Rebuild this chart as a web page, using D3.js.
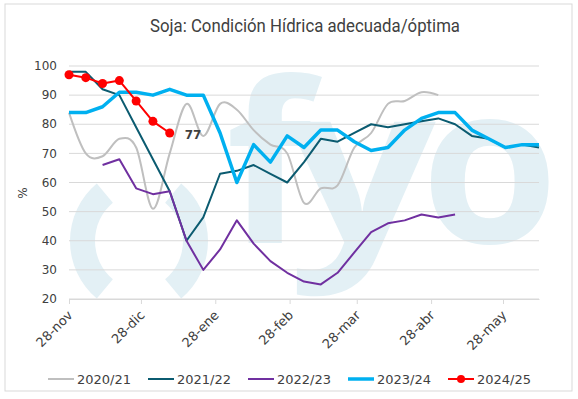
<!DOCTYPE html>
<html>
<head>
<meta charset="utf-8">
<script src="https://cdn.jsdelivr.net/npm/d3@7"></script>
<style>
  body { margin: 0; background: #fff; }
  text { font-family: 'DejaVu Sans', Verdana, sans-serif; fill: #404040; }
</style>
</head>
<body>
<div id="chart"></div>
<script>
// weekly readings, first week = 28-nov
const seasons = ['2020/21', '2021/22', '2022/23', '2023/24', '2024/25']
const colors = ['#bfbfbf', '#0b5b70', '#7030a0', '#00b0f0', '#ff0000']
const widths = [2, 2, 2, 3.5, 2]

const s2020 = [84, 70, 69, 75, 72, 51, 70, 87, 76, 87, 85, 78, 73, 70, 53, 58, 59, 72, 77, 87, 88, 91, 90]
const s2021 = [98, 98, 92, 90, 79, 68, 57, 40, 48, 63, 64, 66, 63, 60, 67, 75, 74, 77, 80, 79, 80, 81, 82, 80, 76, 75, 72, 73, 72]
const s2022 = [null, null, 66, 68, 58, 56, 57, 40, 30, 37, 47, 39, 33, 29, 26, 25, 29, 36, 43, 46, 47, 49, 48, 49]
const s2023 = [84, 84, 86, 91, 91, 90, 92, 90, 90, 77, 60, 73, 67, 76, 72, 78, 78, 74, 71, 72, 78, 82, 84, 84, 78, 75, 72, 73, 73]
const s2024 = [97, 96, 94, 95, 88, 81, 77]

const tickLabels = ['28-nov', '28-dic', '28-ene', '28-feb', '28-mar', '28-abr', '28-may']
const yTicks = [20, 30, 40, 50, 60, 70, 80, 90, 100]

const allSeries = [s2020, s2021, s2022, s2023, s2024]
const start = new Date(2020, 10, 28)
const nWeeks = 29
const weekDate = i => d3.timeDay.offset(start, 7 * i)

const width = 578
const height = 399

const x = d3.scaleTime()
  .domain([start, weekDate(nWeeks - 1)])
  .range([69, 539])

const y = d3.scaleLinear()
  .domain([20, 100])
  .range([299, 66])

const svg = d3.select('#chart')
  .append('svg')
  .attr('width', width)
  .attr('height', height)

svg.append('rect')
  .attr('x', 5).attr('y', 4)
  .attr('width', 567).attr('height', 387)
  .attr('fill', '#fff')
  .attr('stroke', '#d9d9d9')

// watermark "()fyo"
const wm = svg.append('g').attr('fill', '#e3f0f5')
const paren = d3.arc().innerRadius(50).outerRadius(75)
const deg = Math.PI / 180
wm.append('path')
  .attr('transform', 'translate(145,241)')
  .attr('d', paren({ startAngle: 220 * deg, endAngle: 320 * deg }))
wm.append('path')
  .attr('transform', 'translate(133,241)')
  .attr('d', paren({ startAngle: 40 * deg, endAngle: 140 * deg }))
wm.selectAll('text')
  .data([['f', 226, 1], ['y', 288, 1.17], ['o', 421, 1]])
  .join('text')
  .attr('transform', d => `translate(${d[1]},243) scale(${d[2]},1)`)
  .style('font-family', "'Open Sans', sans-serif")
  .style('font-weight', 'bold')
  .style('font-size', '222px')
  .style('fill', '#e3f0f5')
  .text(d => d[0])

svg.append('text')
  .attr('x', 305)
  .attr('y', 32)
  .attr('text-anchor', 'middle')
  .attr('textLength', 310)
  .attr('lengthAdjust', 'spacingAndGlyphs')
  .style('font-family', 'Roboto, sans-serif')
  .style('font-size', '19px')
  .text('Soja: Condición Hídrica adecuada/óptima')

// grid
svg.append('g')
  .selectAll('line')
  .data(yTicks)
  .join('line')
  .attr('x1', x.range()[0])
  .attr('x2', x.range()[1])
  .attr('y1', d => y(d))
  .attr('y2', d => y(d))
  .attr('stroke', '#d9d9d9')

svg.append('g')
  .selectAll('text')
  .data(yTicks)
  .join('text')
  .attr('x', 57)
  .attr('y', d => y(d))
  .attr('dy', '0.35em')
  .attr('text-anchor', 'end')
  .style('font-size', '12px')
  .text(d => d)

svg.append('text')
  .attr('transform', 'translate(27,193) rotate(-90)')
  .attr('text-anchor', 'middle')
  .style('font-size', '12px')
  .text('%')

const tickDates = tickLabels.map((t, i) => new Date(2020, 10 + i, 28))
const xAxis = d3.axisBottom(x)
  .tickValues(tickDates)
  .tickFormat((d, i) => tickLabels[i])
  .tickSize(5)
  .tickSizeOuter(0)

const gx = svg.append('g')
  .attr('transform', `translate(0,${y(20)})`)
  .call(xAxis)
gx.select('.domain').attr('stroke', '#d9d9d9')
gx.selectAll('.tick line').attr('stroke', '#d9d9d9')
gx.selectAll('.tick text')
  .attr('x', 0).attr('y', 0).attr('dy', 0)
  .attr('transform', 'translate(4,17) rotate(-45)')
  .attr('text-anchor', 'end')
  .style('font-size', '13px')
  .style('font-family', "'DejaVu Sans', sans-serif")
  .attr('fill', '#404040')

// lines
const line = d3.line()
  .defined(d => d.v != null)
  .x(d => x(weekDate(d.i)))
  .y(d => y(d.v))

allSeries.forEach((s, k) => {
  const pts = s.map((v, i) => ({ i, v }))
  svg.append('path')
    .datum(pts)
    .attr('fill', 'none')
    .attr('stroke', colors[k])
    .attr('stroke-width', widths[k])
    .attr('stroke-linejoin', 'round')
    .attr('d', k === 0 ? line.curve(d3.curveCardinal.tension(0))(pts) : line.curve(d3.curveLinear)(pts))
})

const last = s2024.map((v, i) => ({ i, v }))
svg.append('g')
  .selectAll('circle')
  .data(last)
  .join('circle')
  .attr('cx', d => x(weekDate(d.i)))
  .attr('cy', d => y(d.v))
  .attr('r', 4.5)
  .attr('fill', colors[4])

const end = last[last.length - 1]
svg.append('text')
  .attr('x', x(weekDate(end.i)) + 15)
  .attr('y', y(end.v) + 6)
  .style('font-size', '12px')
  .style('font-weight', 'bold')
  .text(end.v)

// legend
const legend = svg.append('g')
  .selectAll('g')
  .data(seasons)
  .join('g')
  .attr('transform', (d, i) => `translate(${48 + i * 100},379)`)

legend.append('line')
  .attr('x1', 0).attr('x2', 26)
  .attr('stroke', (d, i) => colors[i])
  .attr('stroke-width', (d, i) => widths[i])

legend.filter((d, i) => i === 4)
  .append('circle')
  .attr('cx', 13)
  .attr('r', 4)
  .attr('fill', colors[4])

legend.append('text')
  .attr('x', 29)
  .attr('dy', '0.35em')
  .style('font-size', '13px')
  .text(d => d)
</script>
</body>
</html>
